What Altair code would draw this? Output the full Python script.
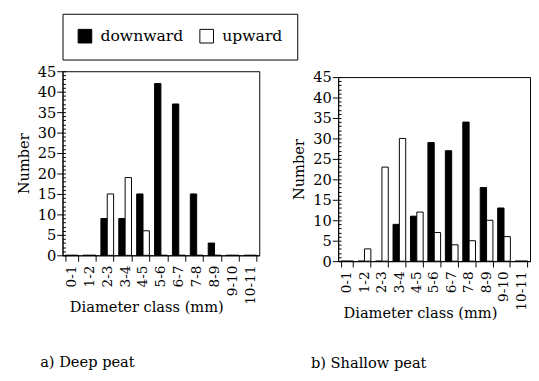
import altair as alt
import pandas as pd

categories = ["0-1", "1-2", "2-3", "3-4", "4-5", "5-6", "6-7", "7-8", "8-9", "9-10", "10-11"]
directions = ["downward", "upward"]

deep_down = [0, 0, 9, 9, 15, 42, 37, 15, 3, 0, 0]
deep_up = [0, 0, 15, 19, 6, 0, 0, 0, 0, 0, 0]
shallow_down = [0, 0, 0, 9, 11, 29, 27, 34, 18, 13, 0]
shallow_up = [0, 3, 23, 30, 12, 7, 4, 5, 10, 6, 0]

y_major = list(range(0, 50, 5))
y_minor = list(range(0, 46))

FONT = "DejaVu Serif"


def make_df(down, up):
    rows = []
    for c, d, u in zip(categories, down, up):
        rows.append({"Class": c, "Direction": "downward", "Number": d})
        rows.append({"Class": c, "Direction": "upward", "Number": u})
    return pd.DataFrame(rows)


def panel(down, up, caption, cap_dx, cap_dy, title_x, width, height):
    df = make_df(down, up)
    bars = alt.Chart(df).mark_bar(stroke="black", strokeWidth=1).encode(
        x=alt.X(
            "Class:N",
            sort=categories,
            scale=alt.Scale(paddingInner=0.29, paddingOuter=0.145),
            axis=alt.Axis(
                tickBand="extent",
                labelAngle=270,
                labelFontSize=14,
                labelPadding=4,
                tickSize=6,
                title="Diameter class (mm)",
                titleFontSize=15,
                titleFontWeight="normal",
                titleX=title_x,
                titleY=58,
                titleBaseline="alphabetic",
            ),
        ),
        xOffset=alt.XOffset(
            "Direction:N", sort=directions, scale=alt.Scale(paddingInner=0, paddingOuter=0)
        ),
        y=alt.Y(
            "Number:Q",
            scale=alt.Scale(domain=[0, 45], nice=False),
            axis=alt.Axis(
                values=y_major,
                tickSize=6,
                labelFontSize=15,
                labelPadding=1,
                grid=False,
                title="Number",
                titleFontSize=15,
                titleFontWeight="normal",
                titlePadding=6,
            ),
        ),
        color=alt.Color(
            "Direction:N",
            scale=alt.Scale(domain=directions, range=["black", "white"]),
            legend=alt.Legend(title=None),
        ),
    )
    minor = alt.Chart(pd.DataFrame({"v": y_minor})).mark_point(opacity=0, size=1).encode(
        y=alt.Y(
            "v:Q",
            scale=alt.Scale(domain=[0, 45], nice=False),
            axis=alt.Axis(
                orient="left",
                values=y_minor,
                offset=-3,
                tickSize=3,
                tickColor="black",
                labels=False,
                domain=False,
                grid=False,
                title=None,
            ),
        )
    )
    cap = alt.Chart(pd.DataFrame({"caption": [caption]})).mark_text(
        align="left", baseline="middle", fontSize=15, font=FONT, color="black"
    ).encode(
        x=alt.value(cap_dx),
        y=alt.value(cap_dy),
        text="caption:N",
    )
    return alt.layer(bars, minor, cap).resolve_scale(y="independent").properties(
        width=width, height=height
    )


left = panel(deep_down, deep_up, "a) Deep peat", -23, 299, 86, 202, 189)
right = panel(shallow_down, shallow_up, "b) Shallow peat", -28, 294, 84, 197, 189)

spacer = (
    alt.Chart(pd.DataFrame({"s": [0]}))
    .mark_point(opacity=0, size=0)
    .properties(width=197, height=1, view=alt.ViewBackground(stroke="transparent"))
)
right_col = alt.vconcat(spacer, right, spacing=-4)

chart = (
    alt.hconcat(left, right_col, spacing=32)
    .properties(padding={"left": 8, "top": 0, "right": 0, "bottom": 0})
    .configure_view(stroke="black", strokeWidth=1)
    .configure_axis(
        domainColor="black",
        tickColor="black",
        labelColor="black",
        titleColor="black",
        labelFont=FONT,
        titleFont=FONT,
    )
    .configure_legend(
        orient="none",
        legendX=0,
        legendY=-59,
        direction="horizontal",
        strokeColor="black",
        strokeWidth=1,
        padding=15,
        symbolType="square",
        symbolSize=196,
        symbolStrokeColor="black",
        symbolStrokeWidth=1,
        labelFont=FONT,
        labelFontSize=16,
        labelColor="black",
        labelOffset=8,
        columnPadding=15,
    )
)

chart.save("out.html", embed_options={"renderer": "svg", "actions": False})
